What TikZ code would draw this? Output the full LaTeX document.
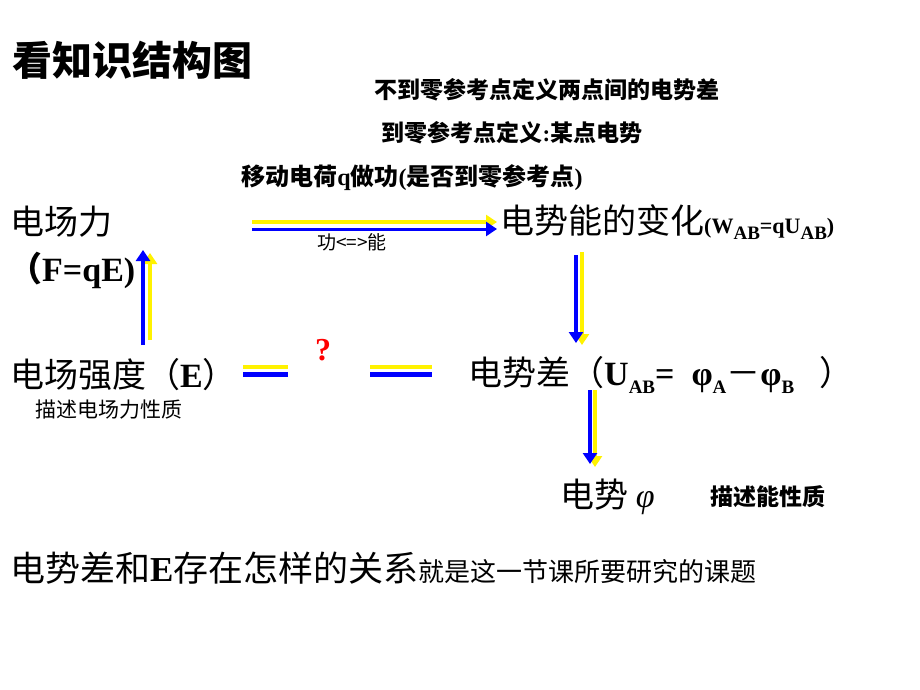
\documentclass[tikz,border=0pt]{standalone}
\usepackage{fontspec}
\setmainfont{Liberation Serif}
\newfontfamily\cjk{Noto Sans CJK SC}
\usetikzlibrary{arrows.meta}
\tikzset{
  txt/.style={inner sep=0pt,anchor=west},
  yl/.style={draw=yellow,line width=4pt},
  bl/.style={draw=blue,line width=4pt},
  ah/.style={-{Triangle[length=11pt,width=14pt]}},
}
\newcommand{\sbf}[1]{\raisebox{-0.25em}{\rmfamily\bfseries\fontsize{19}{20}\selectfont #1}}
\begin{document}
\begin{tikzpicture}[x=1pt,y=-1pt]
\useasboundingbox (0,0) rectangle (920,690);
\node[txt,font=\fontsize{40}{44}\cjk\bfseries] (title) at (12,60) {看知识结构图};
\node[inner sep=0pt,font=\fontsize{23}{26}\cjk\bfseries] (t1) at (547,90) {不到零参考点定义两点间的电势差};
\node[inner sep=0pt,font=\fontsize{23}{26}\cjk\bfseries] (t2) at (512,133) {到零参考点定义{\rmfamily\bfseries :}某点电势};
\node[inner sep=0pt,font=\fontsize{24}{26}\cjk\bfseries] (t3) at (412,178) {移动电荷{\rmfamily\bfseries q}做功{\rmfamily\bfseries (}是否到零参考点{\rmfamily\bfseries )}};
\node[txt,font=\fontsize{34}{38}\cjk] (F) at (10,222) {电场力};
\node[txt,font=\fontsize{34}{38}\bfseries] (F2) at (8,270) {{\cjk （}F=qE)};
\node[txt,font=\fontsize{34}{38}\cjk] (W) at (500,222) {电势能的变化{\rmfamily\bfseries\fontsize{22}{24}\selectfont (W\sbf{AB}=qU\sbf{AB})}};
\node[inner sep=0pt,font=\fontsize{19}{22}\cjk] (gn) at (352,242) {功<=>能};
\node[txt,font=\fontsize{34}{38}\cjk] (E) at (10,375) {电场强度（{\rmfamily\bfseries E}）};
\node[inner sep=0pt,font=\fontsize{32}{34}\bfseries,text=red] (q) at (323,350) {?};
\node[txt,font=\fontsize{34}{38}\cjk] (U) at (468,375) {电势差（{\rmfamily\bfseries U\sbf{AB}= \ φ\sbf{A}}－{\rmfamily\bfseries φ\sbf{B}\ \ \ }）};
\node[txt,font=\fontsize{21}{24}\cjk] (d1) at (35,410) {描述电场力性质};
\node[txt,font=\fontsize{34}{38}\cjk] (P) at (560,497) {电势 {\rmfamily\itshape φ}};
\node[txt,font=\fontsize{23}{26}\cjk\bfseries] (d2) at (710,497) {描述能性质};
\node[txt,font=\fontsize{35}{38}\cjk] (B) at (10,568) {电势差和{\rmfamily\bfseries E}存在怎样的关系{\fontsize{26}{28}\selectfont 就是这一节课所要研究的课题}};
% arrows with yellow shadows
\coordinate (h1) at (252,222); \coordinate (h2) at (497,222);
\coordinate (h3) at (252,229); \coordinate (h4) at (497,229);
\draw[yl,ah] (h1) -- (h2);
\draw[draw=blue,line width=3pt,ah] (h3) -- (h4);
\coordinate (u1) at (150,340); \coordinate (u2) at (150,253);
\coordinate (u3) at (143,345); \coordinate (u4) at (143,250);
\draw[yl,ah] (u1) -- (u2);
\draw[bl,ah] (u3) -- (u4);
\coordinate (v1) at (582,252); \coordinate (v2) at (582,345);
\coordinate (v3) at (576,255); \coordinate (v4) at (576,343);
\draw[yl,ah] (v1) -- (v2);
\draw[bl,ah] (v3) -- (v4);
\coordinate (w1) at (595,390); \coordinate (w2) at (595,467);
\coordinate (w3) at (590,390); \coordinate (w4) at (590,464);
\draw[yl,ah] (w1) -- (w2);
\draw[bl,ah] (w3) -- (w4);
% dashes
\draw[yl] (243,367) -- (288,367);
\draw[bl,line width=5pt] (243,374) -- (288,374);
\draw[yl] (370,367) -- (432,367);
\draw[bl,line width=5pt] (370,374) -- (432,374);
\end{tikzpicture}
\end{document}
